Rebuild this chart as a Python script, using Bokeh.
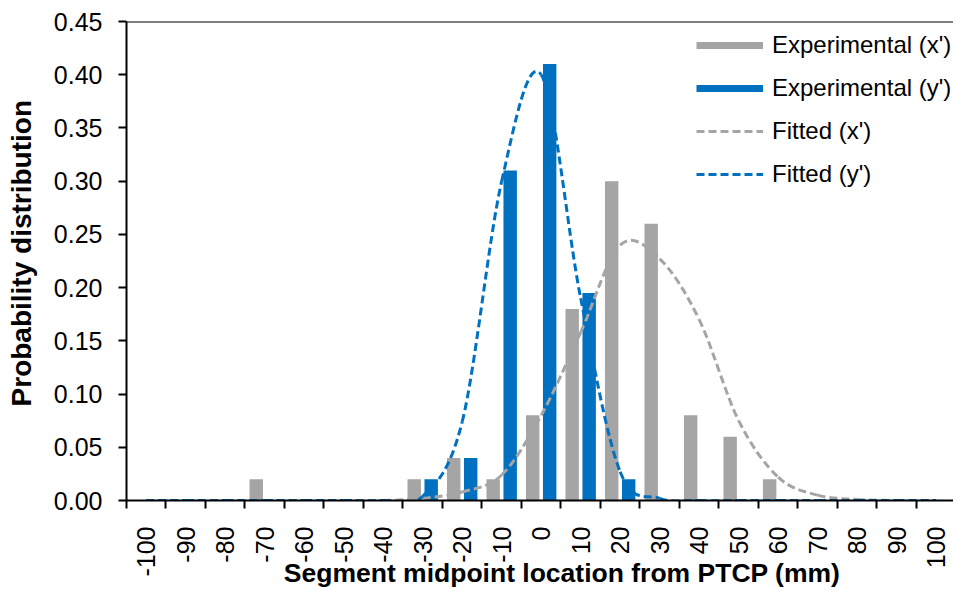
import math

from bokeh.embed import file_html
from bokeh.models import (ColumnDataSource, FixedTicker, Legend, LegendItem,
                          NumeralTickFormatter, Range1d, Span)
from bokeh.plotting import figure
from bokeh.resources import INLINE
from bokeh.transform import dodge

# Segment midpoint location bins (mm)
positions = [-100, -90, -80, -70, -60, -50, -40, -30, -20, -10, 0,
             10, 20, 30, 40, 50, 60, 70, 80, 90, 100]
tick_labels = [str(v) for v in positions]

# Experimental probability per bin
exp_x = [0, 0, 0, 0.02, 0, 0, 0, 0.02, 0.04, 0.02, 0.08,
         0.18, 0.30, 0.26, 0.08, 0.06, 0.02, 0, 0, 0, 0]
exp_y = [0, 0, 0, 0, 0, 0, 0, 0.02, 0.04, 0.31, 0.41,
         0.195, 0.02, 0, 0, 0, 0, 0, 0, 0, 0]

# Fitted distributions evaluated at the bin centres
fit_x = [0, 0, 0, 0, 0, 0, 0, 0.002, 0.008, 0.024, 0.08,
         0.158, 0.240, 0.227, 0.17, 0.075, 0.022, 0.005, 0.001, 0, 0]
fit_y = [0, 0, 0, 0, 0, 0, 0, 0.004, 0.074, 0.30, 0.40,
         0.19, 0.027, 0.002, 0, 0, 0, 0, 0, 0, 0]

y_ticks = [0.0, 0.05, 0.10, 0.15, 0.20, 0.25, 0.30, 0.35, 0.40, 0.45]

GRAY = "#A5A5A5"
BLUE = "#0070C0"
FONT = "Liberation Sans"
NAN = float("nan")
NBSP = "\u00a0"


def smooth_segments(xs, ys):
    """Cubic Bezier segments of a smoothed line through the points."""
    n = len(xs)
    seg = dict(x0=[], y0=[], x1=[], y1=[], cx0=[], cy0=[], cx1=[], cy1=[])
    for i in range(n - 1):
        a = max(i - 1, 0)
        d = min(i + 2, n - 1)
        seg["x0"].append(xs[i])
        seg["y0"].append(ys[i])
        seg["x1"].append(xs[i + 1])
        seg["y1"].append(ys[i + 1])
        seg["cx0"].append(xs[i] + (xs[i + 1] - xs[a]) / 6)
        seg["cy0"].append(ys[i] + (ys[i + 1] - ys[a]) / 6)
        seg["cx1"].append(xs[i + 1] - (xs[d] - xs[i]) / 6)
        seg["cy1"].append(ys[i + 1] - (ys[d] - ys[i]) / 6)
    return ColumnDataSource(seg)


p = figure(width=953, height=591,
           x_range=Range1d(-105, 104.4), y_range=Range1d(0, 0.45),
           output_backend="svg", toolbar_location=None,
           min_border_left=126, min_border_right=0,
           min_border_top=21, min_border_bottom=91)
p.outline_line_color = None
p.grid.visible = False
p.background_fill_color = "white"
p.border_fill_color = "white"

bars = ColumnDataSource(dict(pos=positions, exp_x=exp_x, exp_y=exp_y))
p.vbar(x=dodge("pos", -2.15, range=p.x_range), top="exp_x", width=3.4,
       source=bars, fill_color=GRAY, line_color=None)
p.vbar(x=dodge("pos", 2.15, range=p.x_range), top="exp_y", width=3.4,
       source=bars, fill_color=BLUE, line_color=None)

p.bezier(x0="x0", y0="y0", x1="x1", y1="y1", cx0="cx0", cy0="cy0",
         cx1="cx1", cy1="cy1", source=smooth_segments(positions, fit_x),
         line_color=GRAY, line_width=3, line_dash="8 4")
p.bezier(x0="x0", y0="y0", x1="x1", y1="y1", cx0="cx0", cy0="cy0",
         cx1="cx1", cy1="cy1", source=smooth_segments(positions, fit_y),
         line_color=BLUE, line_width=3, line_dash="8 4")

# top border of the plot area
p.add_layout(Span(location=0.45, dimension="width", line_color="black",
                  line_width=2))

# legend swatches (single undrawn point each)
sw_gx = p.line(x=[NAN], y=[NAN], line_color=GRAY, line_width=7,
               line_cap="butt")
sw_gy = p.line(x=[NAN], y=[NAN], line_color=BLUE, line_width=7,
               line_cap="butt")
sw_fx = p.line(x=[NAN], y=[NAN], line_color=GRAY, line_width=3,
               line_dash="8 4")
sw_fy = p.line(x=[NAN], y=[NAN], line_color=BLUE, line_width=3,
               line_dash="8 4")

legend = Legend(items=[
    LegendItem(label="Experimental (x')", renderers=[sw_gx]),
    LegendItem(label="Experimental (y')", renderers=[sw_gy]),
    LegendItem(label="Fitted (x')", renderers=[sw_fx]),
    LegendItem(label="Fitted (y')", renderers=[sw_fy]),
], location=(570, 312), glyph_width=67, glyph_height=28, label_height=28,
    label_standoff=9, spacing=15, padding=0, margin=0,
    border_line_color=None, background_fill_alpha=0,
    label_text_font=FONT, label_text_font_size="24px",
    label_text_color="black")
p.add_layout(legend)

# x axis: labels at bin centres, tick marks at bin edges
xa = p.xaxis[0]
xa.ticker = FixedTicker(ticks=positions,
                        minor_ticks=[v - 5 for v in positions])
xa.major_label_overrides = {float(v): s for v, s in zip(positions, tick_labels)}
xa.major_tick_out = 0
xa.major_tick_in = 0
xa.minor_tick_out = 8
xa.minor_tick_in = 0
xa.minor_tick_line_color = "black"
xa.minor_tick_line_width = 2
xa.major_label_orientation = math.pi / 2
xa.major_label_standoff = 18
xa.major_label_text_font = FONT
xa.major_label_text_font_size = "25px"
xa.major_label_text_color = "black"
xa.axis_line_color = "black"
xa.axis_line_width = 2
xa.axis_label = NBSP * 6 + "Segment midpoint location from PTCP (mm)"
xa.axis_label_text_font = FONT
xa.axis_label_text_font_size = "26.5px"
xa.axis_label_text_font_style = "bold"
xa.axis_label_text_color = "black"
xa.axis_label_standoff = -22

ya = p.yaxis[0]
ya.ticker = FixedTicker(ticks=y_ticks, minor_ticks=[])
ya.formatter = NumeralTickFormatter(format="0.00")
ya.major_tick_out = 8
ya.major_tick_in = 0
ya.major_tick_line_color = "black"
ya.major_tick_line_width = 2
ya.minor_tick_out = 0
ya.minor_tick_in = 0
ya.major_label_standoff = 16
ya.major_label_text_font = FONT
ya.major_label_text_font_size = "25px"
ya.major_label_text_color = "black"
ya.axis_line_color = "black"
ya.axis_line_width = 2
ya.axis_label = NBSP * 2 + "Probability distribution"
ya.axis_label_text_font = FONT
ya.axis_label_text_font_size = "28px"
ya.axis_label_text_font_style = "bold"
ya.axis_label_text_color = "black"
ya.axis_label_standoff = 14

open("out.html", "w").write(file_html(p, INLINE))
